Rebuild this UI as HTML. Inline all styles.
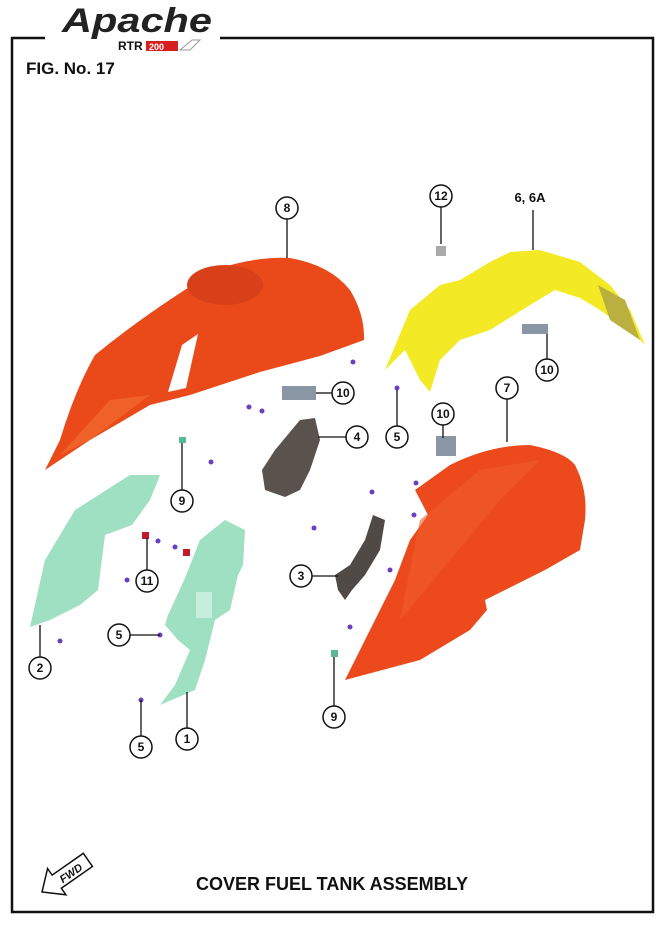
<!DOCTYPE html>
<html><head><meta charset="utf-8"><style>
html,body{margin:0;padding:0;background:#fff;}
svg{display:block;}
text{font-family:"Liberation Sans",Arial,sans-serif;}
</style></head><body>
<svg width="664" height="927" viewBox="0 0 664 927" xmlns="http://www.w3.org/2000/svg">
<rect width="664" height="927" fill="#fff"/>
<path d="M45 38 H12 V912 H653 V38 H220" fill="none" stroke="#111" stroke-width="2.5"/>
<text x="62" y="32" font-size="34" font-style="italic" font-weight="bold" fill="#222" font-family="Liberation Serif,serif" textLength="150" lengthAdjust="spacingAndGlyphs">Apache</text>
<text x="118" y="50" font-size="12" font-weight="bold" fill="#111">RTR</text>
<rect x="146" y="41" width="32" height="10" fill="#d62020"/>
<text x="149" y="50" font-size="9" font-weight="bold" fill="#fff">200</text>
<path d="M180 50 L192 40 L200 40 L190 50 Z" fill="none" stroke="#999" stroke-width="1"/>
<text x="26" y="74" font-size="17" font-weight="bold" fill="#111">FIG. No. 17</text>

<path d="M45 470 L60 440 Q75 390 95 355 Q150 310 220 268 Q260 256 290 258 Q330 265 350 290 Q365 315 364 340 L320 356 L260 372 L190 395 L150 405 L90 440 Z" fill="#ea4a1a"/>
<path d="M168 392 L182 345 L198 334 L186 388 Z" fill="#fff"/>
<ellipse cx="225" cy="285" rx="38" ry="20" fill="#d8401a"/>
<path d="M60 455 L110 400 L150 395 L90 440 Z" fill="#f26a30" opacity=".7"/>

<path d="M385 370 L410 310 L440 285 L460 280 L490 262 L510 252 L540 250 L580 262 L610 285 L630 310 L645 345 L635 335 L600 310 L580 298 L555 290 L530 305 L490 330 L460 340 L440 360 L430 392 L420 380 L405 350 Z" fill="#f3ea25"/>
<path d="M598 285 L625 300 L640 340 L610 320 Z" fill="#b9b040"/>

<path d="M415 490 L450 465 Q490 445 530 445 Q565 452 575 465 Q588 490 585 520 L580 550 L545 570 L485 600 L487 610 L470 630 L420 660 L345 680 L360 650 L375 620 L395 580 L410 540 L428 515 Z" fill="#ec4a1c"/>
<path d="M420 520 L480 470 L540 460 L500 500 L450 560 L400 620 Z" fill="#f25e2a" opacity=".6"/>

<path d="M30 627 L45 560 L75 510 L130 475 L160 475 L150 500 L132 525 L105 535 L98 590 L80 605 L50 620 Z" fill="#9fe0c3"/>
<path d="M160 705 L175 685 L190 650 L178 640 L165 625 L168 615 L185 578 L200 540 L225 520 L245 530 L243 565 L238 575 L230 610 L215 620 L205 660 L195 690 Z" fill="#9fe0c3"/>
<rect x="196" y="592" width="16" height="26" fill="#c8efde"/>

<path d="M265 490 L262 470 L275 450 L300 420 L315 418 L320 440 L310 470 L300 490 L285 497 Z" fill="#5a524c"/>
<path d="M335 575 L350 565 L365 540 L373 515 L385 520 L380 550 L365 575 L352 590 L345 600 L338 590 Z" fill="#4f4a45"/>

<rect x="282" y="386" width="34" height="14" fill="#8a96a4"/>
<rect x="522" y="324" width="26" height="10" fill="#8a96a4"/>
<rect x="436" y="436" width="20" height="20" fill="#8a96a4"/>
<rect x="436" y="246" width="10" height="10" fill="#aaa"/>
<rect x="179" y="437" width="7" height="6" fill="#5bb79a"/>
<rect x="331" y="650" width="7" height="7" fill="#5bb79a"/>
<rect x="142" y="532" width="7" height="7" fill="#c21a2a"/>
<rect x="183" y="549" width="7" height="7" fill="#c21a2a"/>

<g fill="#6a40c0">
<circle cx="353" cy="362" r="2.5"/><circle cx="397" cy="388" r="2.5"/><circle cx="249" cy="407" r="2.5"/><circle cx="262" cy="411" r="2.5"/>
<circle cx="211" cy="462" r="2.5"/><circle cx="372" cy="492" r="2.5"/><circle cx="416" cy="483" r="2.5"/><circle cx="414" cy="515" r="2.5"/>
<circle cx="314" cy="528" r="2.5"/><circle cx="390" cy="570" r="2.5"/><circle cx="350" cy="627" r="2.5"/><circle cx="158" cy="541" r="2.5"/>
<circle cx="175" cy="547" r="2.5"/><circle cx="127" cy="580" r="2.5"/><circle cx="160" cy="635" r="2.5"/><circle cx="60" cy="641" r="2.5"/>
<circle cx="141" cy="700" r="2.5"/>
</g>

<g stroke="#111" stroke-width="1.3" fill="none">
<line x1="287" y1="219" x2="287" y2="258"/>
<line x1="441" y1="207" x2="441" y2="244"/>
<line x1="533" y1="210" x2="533" y2="250"/>
<line x1="332" y1="393" x2="316" y2="393"/>
<line x1="547" y1="359" x2="547" y2="334"/>
<line x1="443" y1="425" x2="443" y2="438"/>
<line x1="507" y1="399" x2="507" y2="442"/>
<line x1="346" y1="437" x2="318" y2="437"/>
<line x1="397" y1="426" x2="397" y2="390"/>
<line x1="182" y1="490" x2="182" y2="443"/>
<line x1="147" y1="570" x2="147" y2="538"/>
<line x1="40" y1="657" x2="40" y2="625"/>
<line x1="130" y1="635" x2="160" y2="635"/>
<line x1="312" y1="576" x2="338" y2="576"/>
<line x1="334" y1="706" x2="334" y2="657"/>
<line x1="141" y1="736" x2="141" y2="700"/>
<line x1="187" y1="728" x2="187" y2="692"/>
</g>
<g fill="#fff" stroke="#111" stroke-width="1.5">
<circle cx="287" cy="208" r="11"/><circle cx="441" cy="196" r="11"/><circle cx="343" cy="393" r="11"/>
<circle cx="547" cy="370" r="11"/><circle cx="443" cy="414" r="11"/><circle cx="507" cy="388" r="11"/>
<circle cx="357" cy="437" r="11"/><circle cx="397" cy="437" r="11"/><circle cx="182" cy="501" r="11"/>
<circle cx="147" cy="581" r="11"/><circle cx="40" cy="668" r="11"/><circle cx="119" cy="635" r="11"/>
<circle cx="301" cy="576" r="11"/><circle cx="334" cy="717" r="11"/><circle cx="141" cy="747" r="11"/>
<circle cx="187" cy="739" r="11"/>
</g>
<g font-size="12" font-weight="bold" fill="#111" text-anchor="middle">
<text x="287" y="212">8</text><text x="441" y="200">12</text><text x="343" y="397">10</text>
<text x="547" y="374">10</text><text x="443" y="418">10</text><text x="507" y="392">7</text>
<text x="357" y="441">4</text><text x="397" y="441">5</text><text x="182" y="505">9</text>
<text x="147" y="585">11</text><text x="40" y="672">2</text><text x="119" y="639">5</text>
<text x="301" y="580">3</text><text x="334" y="721">9</text><text x="141" y="751">5</text>
<text x="187" y="743">1</text>
<text x="530" y="202" font-size="13">6, 6A</text>
</g>

<g transform="translate(42,892) rotate(-35)">
<path d="M0 0 L18 -16 L18 -8 L56 -8 L56 8 L18 8 L18 16 Z" fill="#fff" stroke="#111" stroke-width="1.5"/>
<text x="22" y="5" font-size="11" font-weight="bold" font-style="italic" fill="#111">FWD</text>
</g>
<text x="332" y="890" font-size="18" font-weight="bold" fill="#111" text-anchor="middle">COVER FUEL TANK ASSEMBLY</text>
</svg>
</body></html>
